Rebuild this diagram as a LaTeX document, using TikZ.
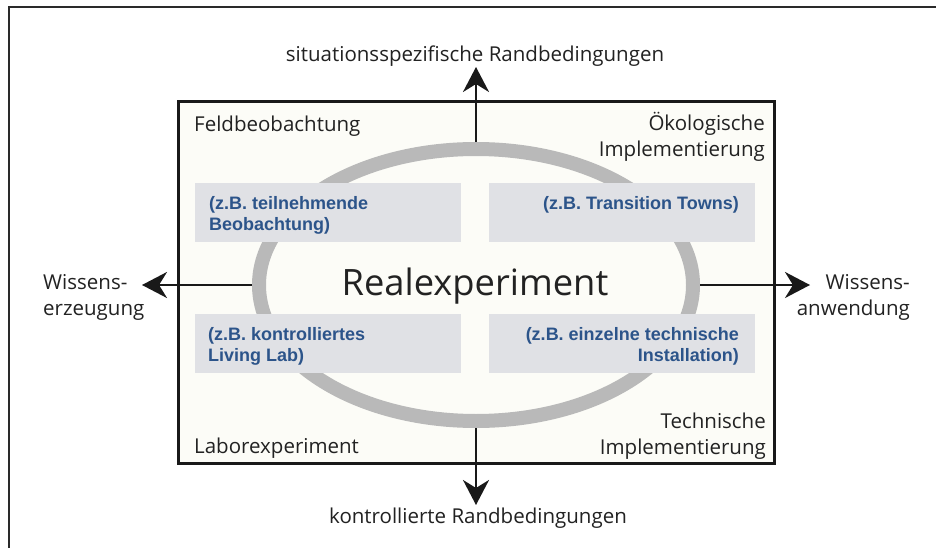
\documentclass[tikz,border=0pt]{standalone}
\usepackage{fontspec}
\setmainfont{Open Sans}
\newfontfamily\egfont{Liberation Sans}
\usetikzlibrary{arrows.meta,shapes.geometric}
\definecolor{boxfill}{HTML}{FCFCF7}
\definecolor{boxgray}{HTML}{E0E1E5}
\definecolor{ellgray}{HTML}{B9B9B9}
\definecolor{egblue}{HTML}{2C548A}
\definecolor{txtgray}{HTML}{222222}
\definecolor{framec}{HTML}{2A2A2A}
\tikzset{
  lbl/.style={font=\fontsize{20.5}{26}\selectfont, text=txtgray, inner sep=0},
  egtext/.style={font=\egfont\bfseries\fontsize{18}{21}\selectfont, text=egblue, inner sep=0},
  gbox/.style={fill=boxgray, draw=none, minimum width=266, minimum height=59, inner sep=0},
  arr/.style={line width=2.5, draw=black!90, -{Stealth[length=25pt,width=26pt,inset=8pt]}}
}
\begin{document}
\begin{tikzpicture}[x=1pt,y=-1pt]
\useasboundingbox (0,0) rectangle (936,548);
\fill[white] (0,0) rectangle (936,548);
\draw[line width=2, draw=framec] (9,7) rectangle (980,590);
\node[draw=black!90, line width=3, fill=boxfill, minimum width=596, minimum height=361, inner sep=0] (box) at (476,282.5) {};
\node[ellipse, draw=ellgray, line width=14, minimum width=434, minimum height=272, inner sep=0] (ell) at (476,285) {};
\coordinate (tipT) at (476,67);
\coordinate (tipB) at (476,505);
\coordinate (tipL) at (142,285);
\coordinate (tipR) at (810,285);
\draw[arr] (ell.north) -- (tipT);
\draw[arr] (ell.south) -- (tipB);
\draw[arr] (ell.west) -- (tipL);
\draw[arr] (ell.east) -- (tipR);
\node[gbox] (g1) at (328,212.5) {};
\node[gbox] (g2) at (621.5,212.5) {};
\node[gbox] (g3) at (327.5,343) {};
\node[gbox] (g4) at (621.5,343) {};
\node[egtext, anchor=base west, align=left] (t1) at (209,230) {(z.B. teilnehmende\\Beobachtung)};
\node[egtext, anchor=base east] (t2) at (739,209) {(z.B. Transition Towns)};
\node[egtext, anchor=base west, align=left] (t3) at (208,361) {(z.B. kontrolliertes\\Living Lab)};
\node[egtext, anchor=base east, align=right] (t4) at (739,361) {(z.B. einzelne technische\\Installation)};
\node[font=\fontsize{36.3}{44}\selectfont, text=txtgray, inner sep=0, anchor=base] (real) at (475,295) {Realexperiment};
\node[lbl, anchor=base] (lt) at (475,62) {situationsspezifische Randbedingungen};
\node[lbl, anchor=base] (lb) at (478,523) {kontrollierte Randbedingungen};
\node[lbl, anchor=base west] (fb) at (194,132) {Feldbeobachtung};
\node[lbl, anchor=base east, align=right] (oi) at (765,157) {Ökologische\\Implementierung};
\node[lbl, anchor=base west] (le) at (194,453) {Laborexperiment};
\node[lbl, anchor=base east, align=right] (ti) at (766,454) {Technische\\Implementierung};
\node[lbl, anchor=base west, align=left] (we) at (43,315) {Wissens-\\erzeugung};
\node[lbl, anchor=base east, align=right] (wa) at (910,315) {Wissens-\\anwendung};
\end{tikzpicture}
\end{document}
